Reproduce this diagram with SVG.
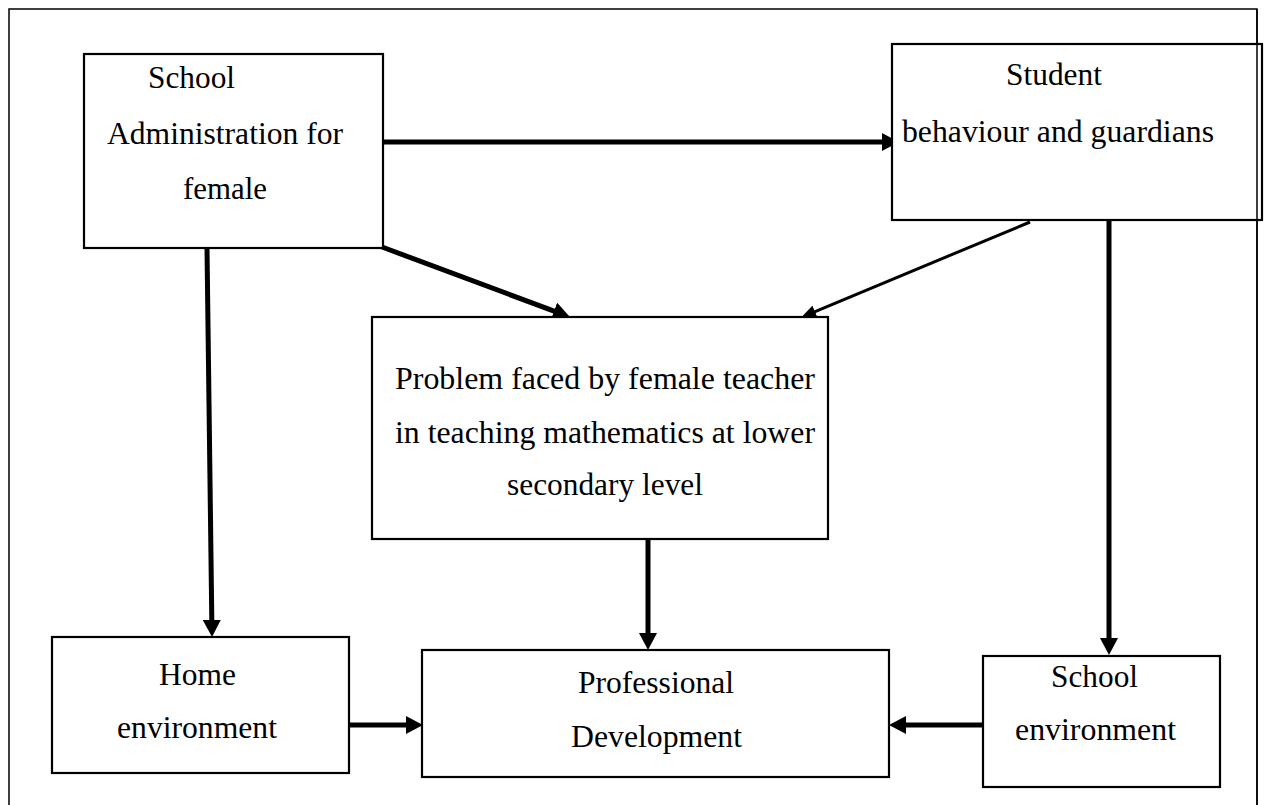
<svg xmlns="http://www.w3.org/2000/svg" width="1267" height="805" viewBox="0 0 1267 805">
<style>
.frame{fill:none;stroke:#000;stroke-width:1.5}
.box{fill:#fff;stroke:#000;stroke-width:2.2}
text{font-family:'Liberation Serif','Times New Roman',Times,serif;font-size:31.6px;fill:#000}
.c{fill:none;stroke:#000;stroke-width:5}
.c2{fill:none;stroke:#000;stroke-width:3}
</style>
<defs>
<marker id="ah" markerUnits="userSpaceOnUse" markerWidth="17" markerHeight="18" refX="8" refY="9" orient="auto"><path d="M0,0 L17,9 L0,18 z" fill="#000"/></marker>
<marker id="ah2" markerUnits="userSpaceOnUse" markerWidth="15" markerHeight="13" refX="7" refY="6.5" orient="auto"><path d="M0,0 L15,6.5 L0,13 z" fill="#000"/></marker>
</defs>
<rect class="frame" x="9" y="9" width="1248" height="820"/>
<g id="connectors">
<line class="c" x1="384" y1="142" x2="890" y2="142" marker-end="url(#ah)"/>
<line class="c" x1="382" y1="247" x2="561.5" y2="313.9" marker-end="url(#ah)"/>
<line class="c2" x1="1030" y1="222" x2="808.5" y2="314.3" marker-end="url(#ah2)"/>
<line class="c" x1="207" y1="248" x2="211.9" y2="628" marker-end="url(#ah)"/>
<line class="c" x1="648" y1="539" x2="648" y2="641" marker-end="url(#ah)"/>
<line class="c" x1="1109" y1="221" x2="1109" y2="646" marker-end="url(#ah)"/>
<line class="c" x1="350" y1="725" x2="414" y2="725" marker-end="url(#ah)"/>
<line class="c" x1="983" y1="725" x2="898" y2="725" marker-end="url(#ah)"/>
</g>
<g id="school-admin">
<rect class="box" x="84" y="54" width="299" height="194"/>
<text x="148" y="88" textLength="87" lengthAdjust="spacingAndGlyphs">School</text>
<text x="107" y="144" textLength="236" lengthAdjust="spacingAndGlyphs">Administration for</text>
<text x="183" y="199" textLength="84" lengthAdjust="spacingAndGlyphs">female</text>
</g>
<g id="student">
<rect class="box" x="892" y="44" width="370" height="176"/>
<text x="1006" y="85" textLength="96" lengthAdjust="spacingAndGlyphs">Student</text>
<text x="902" y="142" textLength="312" lengthAdjust="spacingAndGlyphs">behaviour and guardians</text>
</g>
<line class="frame" x1="1257" y1="9" x2="1257" y2="805"/>
<g id="problem">
<rect class="box" x="372" y="317" width="456" height="222"/>
<text x="395" y="389" textLength="420" lengthAdjust="spacingAndGlyphs">Problem faced by female teacher</text>
<text x="395" y="443" textLength="420" lengthAdjust="spacingAndGlyphs">in teaching mathematics at lower</text>
<text x="507" y="495" textLength="196" lengthAdjust="spacingAndGlyphs">secondary level</text>
</g>
<g id="home">
<rect class="box" x="52" y="637" width="297" height="136"/>
<text x="159" y="685" textLength="77" lengthAdjust="spacingAndGlyphs">Home</text>
<text x="117" y="738" textLength="160" lengthAdjust="spacingAndGlyphs">environment</text>
</g>
<g id="professional">
<rect class="box" x="422" y="650" width="467" height="127"/>
<text x="578" y="693" textLength="156" lengthAdjust="spacingAndGlyphs">Professional</text>
<text x="571" y="747" textLength="171" lengthAdjust="spacingAndGlyphs">Development</text>
</g>
<g id="school-env">
<rect class="box" x="983" y="656" width="237" height="131"/>
<text x="1051" y="687" textLength="87" lengthAdjust="spacingAndGlyphs">School</text>
<text x="1015" y="740" textLength="161" lengthAdjust="spacingAndGlyphs">environment</text>
</g>
</svg>
